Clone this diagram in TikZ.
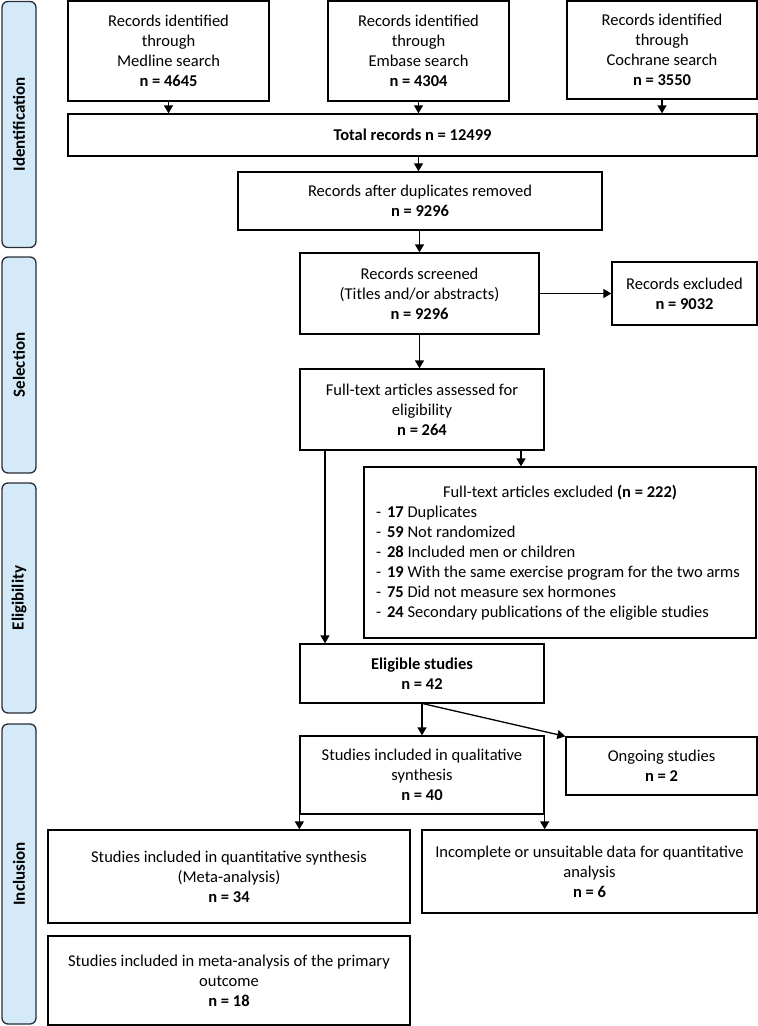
\documentclass[tikz,border=0pt]{standalone}
\usepackage{fontspec}
\setmainfont{Carlito}
\usetikzlibrary{arrows.meta}
\definecolor{sidefill}{RGB}{212,234,248}
\definecolor{sideline}{RGB}{40,44,52}
\begin{document}
\begin{tikzpicture}[x=1pt,y=-1pt,
  box/.style={draw, line width=1.3pt, inner sep=0pt, align=center, font=\fontsize{16.5}{20}\selectfont},
  side/.style={draw=sideline, line width=1.3pt, fill=sidefill, rounded corners=6pt, rotate=90, inner sep=0pt, font=\fontsize{17}{20}\selectfont\bfseries},
  arr/.style={line width=1.3pt, -{Triangle[length=8pt,width=9pt]}}]
\useasboundingbox (0,0) rectangle (758,1026);

% side labels
\node[side, minimum width=246pt, minimum height=34pt] (sid) at (19,124.5) {Identification};
\node[side, minimum width=216pt, minimum height=34pt] (ssel) at (19,365) {Selection};
\node[side, minimum width=230pt, minimum height=34pt] (seli) at (19,598) {Eligibility};
\node[side, minimum width=300pt, minimum height=34pt] (sinc) at (19,874) {Inclusion};

% boxes
\node[box, minimum width=201pt, minimum height=100pt] (med) at (168.5,51) {Records identified\\through\\ Medline search\\\textbf{n = 4645}};
\node[box, minimum width=181pt, minimum height=100pt] (emb) at (418.5,51) {Records identified\\through\\ Embase search\\\textbf{n = 4304}};
\node[box, minimum width=190pt, minimum height=98pt] (coch) at (662,50) {Records identified\\through\\ Cochrane search\\\textbf{n = 3550}};
\node[box, minimum width=689pt, minimum height=42pt] (total) at (412.5,135) {\textbf{Total records n = 12499}};
\node[box, minimum width=364pt, minimum height=58pt] (dup) at (420,201) {Records after duplicates removed\\\textbf{n = 9296}};
\node[box, minimum width=239pt, minimum height=81pt] (scr) at (419.5,293.5) {Records screened\\(Titles and/or abstracts)\\\textbf{n = 9296}};
\node[box, minimum width=145pt, minimum height=63pt] (rex) at (684.5,293.5) {Records excluded\\\textbf{n = 9032}};
\node[box, minimum width=244pt, minimum height=81pt] (ft) at (422,409.5) {Full-text articles assessed for\\eligibility\\\textbf{n = 264}};
\node[box, minimum width=392pt, minimum height=171pt, align=left] (exc) at (560,552.5) {\makebox[368pt][c]{Full-text articles excluded \textbf{(n = 222)}}\\
-\hspace{6pt}\textbf{17} Duplicates\\
-\hspace{6pt}\textbf{59} Not randomized\\
-\hspace{6pt}\textbf{28} Included men or children\\
-\hspace{6pt}\textbf{19} With the same exercise program for the two arms\\
-\hspace{6pt}\textbf{75} Did not measure sex hormones\\
-\hspace{6pt}\textbf{24} Secondary publications of the eligible studies};
\node[box, minimum width=244pt, minimum height=59pt] (elig) at (422,673.5) {\textbf{Eligible studies}\\\textbf{n = 42}};
\node[box, minimum width=244pt, minimum height=78pt] (qual) at (422,775) {Studies included in qualitative\\synthesis\\\textbf{n = 40}};
\node[box, minimum width=191pt, minimum height=58pt] (ong) at (661.5,766) {Ongoing studies\\\textbf{n = 2}};
\node[box, minimum width=362pt, minimum height=93pt] (quant) at (229,876.5) {Studies included in quantitative synthesis\\(Meta-analysis)\\\textbf{n = 34}};
\node[box, minimum width=335pt, minimum height=83pt] (inc) at (589.5,871.5) {Incomplete or unsuitable data for quantitative\\analysis\\\textbf{n = 6}};
\node[box, minimum width=362pt, minimum height=89pt] (prim) at (229,980.5) {Studies included in meta-analysis of the primary\\outcome\\\textbf{n = 18}};

% connectors
\draw[arr] (med.south) -- (med.south |- total.north);
\draw[arr] (emb.south) -- (emb.south |- total.north);
\draw[arr] (coch.south) -- (coch.south |- total.north);
\draw[arr] (total.south -| emb.south) -- (dup.north -| emb.south);
\draw[arr] (dup.south -| scr.north) -- (scr.north);
\draw[arr] (scr.east) -- (rex.west);
\draw[arr] (scr.south) -- (scr.south |- ft.north);
\draw[arr] ([xshift=99pt]ft.south) -- ([xshift=99pt]ft.south |- exc.north);
\draw[arr] ([xshift=-97pt]ft.south) -- ([xshift=-97pt]ft.south |- elig.north);
\draw[arr] (elig.south) -- (qual.north);
\draw[arr] ([xshift=1pt]elig.south) -- (ong.north west);
\draw[arr] (qual.south west) -- (qual.south west |- quant.north);
\draw[arr] (qual.south east) -- (qual.south east |- inc.north);
\end{tikzpicture}
\end{document}
